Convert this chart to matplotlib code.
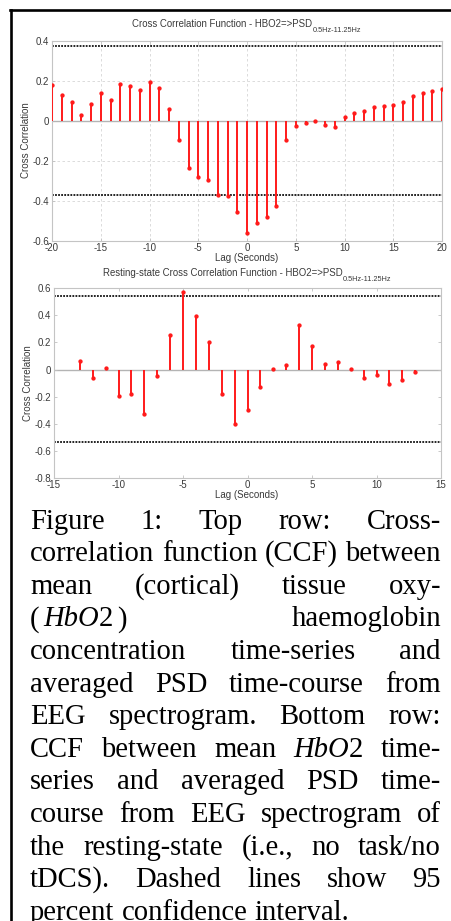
"""
Two stem plots of cross-correlation (HbO2 -> PSD) with a justified caption below.
"""

import matplotlib
matplotlib.use("Agg")
import matplotlib.pyplot as plt
from matplotlib.lines import Line2D
from matplotlib.transforms import IdentityTransform

plt.rcParams["axes.unicode_minus"] = False

W, H = 451, 921

# ── Data: top panel (task) ─────────────────────────────────
top_lags = list(range(-20, 21))
top_ccf = [0.177, 0.128, 0.093, 0.030, 0.084, 0.138, 0.103, 0.182, 0.172, 0.152,
           0.192, 0.164, 0.057, -0.098, -0.238, -0.282, -0.298, -0.372, -0.377, -0.456,
           -0.561, -0.513, -0.480, -0.426, -0.098, -0.025, -0.013, -0.002, -0.020, -0.031,
           0.016, 0.039, 0.049, 0.067, 0.072, 0.080, 0.095, 0.121, 0.136, 0.149, 0.157]
top_ci = [0.372, -0.372]
top_xticks = [-20, -15, -10, -5, 0, 5, 10, 15, 20]
top_xlabels = ["-20", "-15", "-10", "-5", "0", "5", "10", "15", "20"]
top_yticks = [-0.6, -0.4, -0.2, 0, 0.2, 0.4]
top_ylabels = ["-0.6", "-0.4", "-0.2", "0", "0.2", "0.4"]
top_title = "Cross Correlation Function - HBO2=>PSD"

# ── Data: bottom panel (resting state) ─────────────────────
bottom_lags = list(range(-13, 14))
bottom_ccf = [0.067, -0.062, 0.012, -0.198, -0.178, -0.325, -0.044, 0.252, 0.573, 0.398,
              0.202, -0.178, -0.405, -0.296, -0.128, 0.002, 0.035, 0.328, 0.173, 0.042,
              0.059, 0.005, -0.062, -0.042, -0.109, -0.079, -0.017]
bottom_ci = [0.543, -0.537]
bottom_xticks = [-15, -10, -5, 0, 5, 10, 15]
bottom_xlabels = ["-15", "-10", "-5", "0", "5", "10", "15"]
bottom_yticks = [-0.8, -0.6, -0.4, -0.2, 0, 0.2, 0.4, 0.6]
bottom_ylabels = ["-0.8", "-0.6", "-0.4", "-0.2", "0", "0.2", "0.4", "0.6"]
bottom_title = "Resting-state Cross Correlation Function - HBO2=>PSD"

title_sub = "0.5Hz-11.25Hz"

# caption lines: *...* marks italic, ~ is a small fixed gap inside a word
caption_lines = [
    "Figure 1: Top row: Cross-",
    "correlation function (CCF) between",
    "mean (cortical) tissue oxy-",
    "(~*HbO*2~) haemoglobin",
    "concentration time-series and",
    "averaged PSD time-course from",
    "EEG spectrogram. Bottom row:",
    "CCF between mean *HbO*2 time-",
    "series and averaged PSD time-",
    "course from EEG spectrogram of",
    "the resting-state (i.e., no task/no",
    "tDCS). Dashed lines show 95",
    "percent confidence interval.",
]

# ── Figure ─────────────────────────────────────────────────
fig = plt.figure(figsize=(W / 100, H / 100), dpi=100)
renderer = fig.canvas.get_renderer()
px = IdentityTransform()

SANS = ["Liberation Sans", "DejaVu Sans"]
TXT = "#3a3a3a"

# frame lines (top and left edge)
fig.add_artist(Line2D([10, W], [H - 9.5, H - 9.5], transform=px, color="black", lw=1.9))
fig.add_artist(Line2D([10.8, 10.8], [0, H - 9.5], transform=px, color="black", lw=1.9))


def draw_panel(box, lags, ccf, ci, xticks, xlabels, yticks, ylabels, grid):
    left, top, right, bottom = box
    ax = fig.add_axes([left / W, 1 - bottom / H, (right - left) / W, (bottom - top) / H])
    ax.axhline(0, color="#b4b4b4", lw=1.0, zorder=1)
    markers, stems, base = ax.stem(lags, ccf, basefmt=" ")
    plt.setp(stems, color="#ff1a1a", lw=1.4, zorder=3)
    plt.setp(markers, color="#ff1a1a", marker="o", markersize=2.1, zorder=4)
    for c in ci:
        ax.axhline(c, color="#111111", lw=1.3, linestyle=(0, (1.0, 0.7)), zorder=2)
    ax.set_xlim(xticks[0], xticks[-1])
    ax.set_ylim(yticks[0], yticks[-1])
    ax.set_xticks(xticks, xlabels)
    ax.set_yticks(yticks, ylabels)
    ax.tick_params(direction="in", length=2.5, width=0.6, color="#c0c0c0",
                   top=True, right=True, labelsize=7, labelcolor=TXT, pad=2)
    ax.tick_params(axis="x", pad=1.5)
    for lab in ax.get_xticklabels() + ax.get_yticklabels():
        lab.set_family(SANS)
    for sp in ax.spines.values():
        sp.set_color("#c4c4c4")
        sp.set_linewidth(0.8)
    if grid:
        ax.grid(True, color="#d6d6d6", lw=0.6, linestyle=(0, (3, 3)))
        ax.set_axisbelow(True)
    return ax


def draw_title(cx, base_y, main, sub):
    t1 = fig.text(0, H - base_y, main, transform=px, family=SANS, size=6.9,
                  color=TXT, va="baseline")
    t2 = fig.text(0, H - base_y - 5, sub, transform=px, family=SANS, size=5.3,
                  color=TXT, va="baseline")
    w1 = t1.get_window_extent(renderer).width
    w2 = t2.get_window_extent(renderer).width
    x0 = cx - (w1 + w2) / 2
    t1.set_x(x0)
    t2.set_x(x0 + w1 + 0.5)


# top panel
draw_panel((52, 40.7, 442, 240.7), top_lags, top_ccf, top_ci,
           top_xticks, top_xlabels, top_yticks, top_ylabels, grid=True)
draw_title(246, 27, top_title, title_sub)
fig.text(26, H - 140, "Cross Correlation", transform=px, family=SANS, size=7,
         color=TXT, rotation=90, ha="center", va="center")
fig.text(247, H - 258, "Lag (Seconds)", transform=px, family=SANS, size=7,
         color=TXT, ha="center", va="center")

# bottom panel
draw_panel((54, 288.3, 441, 478), bottom_lags, bottom_ccf, bottom_ci,
           bottom_xticks, bottom_xlabels, bottom_yticks, bottom_ylabels, grid=False)
draw_title(247, 275.5, bottom_title, title_sub)
fig.text(28, H - 383, "Cross Correlation", transform=px, family=SANS, size=7,
         color=TXT, rotation=90, ha="center", va="center")
fig.text(247, H - 495, "Lag (Seconds)", transform=px, family=SANS, size=7,
         color=TXT, ha="center", va="center")

# ── Justified caption ──────────────────────────────────────
L_EDGE, R_EDGE = 30, 441
BASE0, LEAD = 528.5, 32.6
GAP = 4
serif = dict(family=["Liberation Serif", "DejaVu Serif"], size=20.6, color="black",
             va="baseline", transform=px)


def parse_word(word):
    runs = []
    for k, piece in enumerate(word.split("~")):
        if k > 0:
            runs.append(("", False, GAP))
        for i, part in enumerate(piece.split("*")):
            if part:
                runs.append((part, i % 2 == 1, None))
    return runs


def measure(s, italic):
    t = fig.text(0, 0, s, style="italic" if italic else "normal", **serif)
    w = t.get_window_extent(renderer).width
    t.remove()
    return w


space_w = measure("a a", False) - measure("aa", False)

for n, line in enumerate(caption_lines):
    y = H - (BASE0 + n * LEAD)
    words = [parse_word(w) for w in line.split(" ")]
    widths = []
    for runs in words:
        widths.append([g if g is not None else measure(s, it) for s, it, g in runs])
    total = sum(sum(w) for w in widths)
    if n == len(caption_lines) - 1 or len(words) == 1:
        gap = space_w
    else:
        gap = (R_EDGE - L_EDGE - total) / (len(words) - 1)
    x = L_EDGE
    for runs, ws in zip(words, widths):
        for (s, it, g), w in zip(runs, ws):
            if g is None:
                fig.text(x, y, s, style="italic" if it else "normal", **serif)
            x += w
        x += gap

fig.savefig("out.png", dpi=100)
